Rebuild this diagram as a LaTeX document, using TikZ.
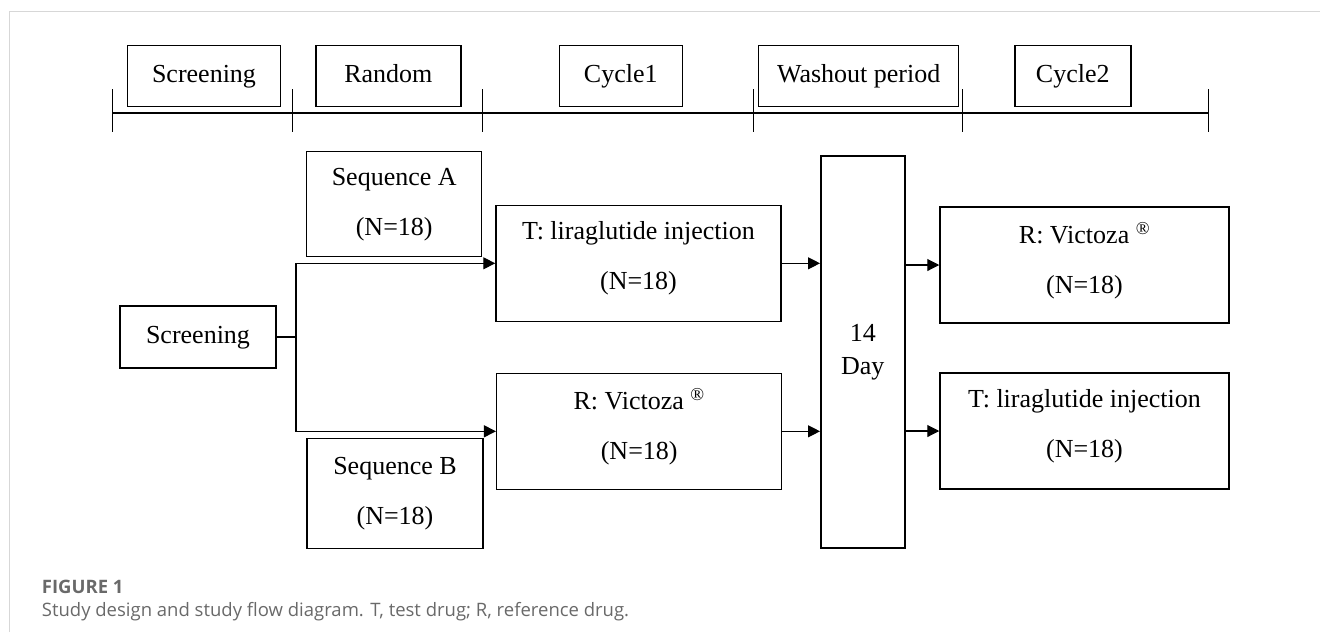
\documentclass[tikz,border=0pt]{standalone}
\usepackage{fontspec}
\setmainfont{Liberation Serif}
\newfontfamily\capfont{Open Sans}
\usetikzlibrary{arrows.meta}
\definecolor{framegray}{RGB}{215,215,215}
\definecolor{capgray}{RGB}{105,105,105}

\begin{document}
\begin{tikzpicture}[x=1pt,y=-1pt,
	box/.style={draw, line width=1.5pt, inner sep=0pt, align=center, font=\fontsize{26}{50}\selectfont},
	oneline/.style={text height=18pt, text depth=6pt},
	twoline/.style={text depth=15pt},
	flow/.style={line width=1.1pt, -{Triangle[length=12pt,width=12pt]}}]
	\useasboundingbox (0,0) rectangle (1320,641);
	\draw[framegray, line width=1.2pt] (9.5,632) -- (9.5,11.5) -- (1320,11.5);
	% time line
	\draw[line width=1.1pt] (112.7,113) -- (1208.3,113);
	\foreach \x in {112.7,292.3,482.3,753.3,962.3,1208.3}
		\draw[line width=1.1pt] (\x,89) -- (\x,132);
	\node[box, oneline, minimum width=153pt, minimum height=61pt] (hscr) at (204,76) {Screening};
	\node[box, oneline, minimum width=145pt, minimum height=61pt] (hrand) at (388.3,76) {Random};
	\node[box, oneline, minimum width=123pt, minimum height=61pt] (hcyc1) at (620.8,76) {Cycle1};
	\node[box, oneline, minimum width=200pt, minimum height=61pt] (hwash) at (858.7,76) {Washout period};
	\node[box, oneline, minimum width=116pt, minimum height=61pt] (hcyc2) at (1072.8,76) {Cycle2};
	% flow
	\node[box, oneline, minimum width=156pt, minimum height=62pt] (scr) at (198,337) {Screening};
	\node[box, minimum width=175pt, minimum height=105pt] (seqa) at (394.2,204.2) {Sequence A\\(N=18)};
	\node[box, minimum width=176pt, minimum height=110pt] (seqb) at (395,493.3) {Sequence B\\(N=18)};
	\node[box, twoline, minimum width=285pt, minimum height=116pt] (t1) at (638.5,263.3) {T: liraglutide injection\\(N=18)};
	\node[box, twoline, minimum width=285pt, minimum height=116pt] (r1) at (639.2,431.3) {R: Victoza \textsuperscript{®}\\(N=18)};
	\node[box, minimum width=84pt, minimum height=392pt, font=\fontsize{26}{33}\selectfont] (day) at (862.8,352.2) {14\\Day};
	\node[box, twoline, minimum width=289pt, minimum height=116pt] (r2) at (1084.5,265) {R: Victoza \textsuperscript{®}\\(N=18)};
	\node[box, twoline, minimum width=289pt, minimum height=116pt] (t2) at (1084.5,431) {T: liraglutide injection\\(N=18)};
	\coordinate (split) at (296,337);
	\draw[line width=1.1pt] (scr.east) -- (split);
	\draw[flow] (split) |- (t1.west);
	\draw[flow] (split) |- (r1.west);
	\draw[flow] (t1.east) -- (t1.east -| day.west);
	\draw[flow] (r1.east) -- (r1.east -| day.west);
	\draw[flow] (day.east |- r2.west) -- (r2.west);
	\draw[flow] (day.east |- t2.west) -- (t2.west);
	% caption
	\node[anchor=base west, inner sep=0pt, text=capgray, font=\capfont\fontsize{18.5}{22}\selectfont\bfseries] (fig) at (41.7,593.3) {FIGURE 1};
	\node[anchor=base west, inner sep=0pt, text=capgray, font=\capfont\fontsize{18.5}{22}\selectfont] (cap) at (41.7,616.7) {Study design and study flow diagram. T, test drug; R, reference drug.};
\end{tikzpicture}
\end{document}
